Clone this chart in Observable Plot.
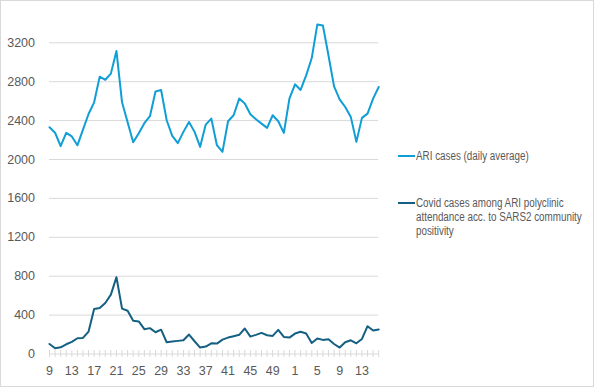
<!DOCTYPE html>
<html>
<head>
<meta charset="utf-8">
<script src="https://cdn.jsdelivr.net/npm/d3@7"></script>
<script src="https://cdn.jsdelivr.net/npm/@observablehq/plot@0.6"></script>
<style>
  html, body { margin: 0; padding: 0; background: #fff; }
  #wrap { position: relative; width: 594px; height: 387px; overflow: hidden; }
  #frame { position: absolute; left: 0; top: 0; width: 592px; height: 385px; border: 1px solid #d9d9d9; pointer-events: none; }
  .leg { position: absolute; font-family: "Liberation Sans", Arial, sans-serif; font-size: 12px; color: #595959; line-height: 14px; white-space: nowrap; transform: scaleX(0.82); transform-origin: 0 0; }
  .sw { position: absolute; height: 2px; width: 17px; }
</style>
</head>
<body>
<div id="wrap"><div id="frame"></div></div>
<script>
const weeks = [9,10,11,12,13,14,15,16,17,18,19,20,21,22,23,24,25,26,27,28,29,30,31,32,33,34,35,36,37,38,39,40,41,42,43,44,45,46,47,48,49,50,51,52,1,2,3,4,5,6,7,8,9,10,11,12,13,14,15,16];
const ari = [2332,2275,2137,2274,2237,2146,2308,2468,2588,2852,2820,2883,3115,2588,2382,2178,2270,2373,2445,2700,2715,2404,2243,2168,2284,2386,2284,2130,2359,2421,2147,2079,2393,2455,2626,2575,2465,2414,2369,2325,2455,2393,2274,2626,2773,2715,2865,3043,3389,3378,3070,2752,2619,2540,2438,2181,2428,2472,2626,2746];
const covid = [103,59,69,100,124,162,165,231,462,472,524,610,790,466,445,341,335,255,266,224,250,121,128,135,141,200,131,66,76,110,107,148,169,183,197,262,179,197,217,193,186,248,176,169,210,228,210,114,159,145,152,103,66,121,141,110,155,286,241,252];
const yTicks = [0,400,800,1200,1600,2000,2400,2800,3200];
const seriesLines = [
  ["ARI cases (daily average)"],
  ["Covid cases among ARI polyclinic", "attendance acc. to SARS2 community", "positivity"]
];
const colors = ["#0f9ed5", "#156082"];

const idx = weeks.map((w, i) => i);
const ariData = ari.map((v, i) => ({i, v}));
const covidData = covid.map((v, i) => ({i, v}));

const chart = Plot.plot({
  width: 594,
  height: 387,
  marginLeft: 49,
  marginRight: 215.8,
  marginTop: 42.3,
  marginBottom: 33.5,
  style: {fontFamily: "'Liberation Sans', Arial, sans-serif", fontSize: "12.5px", color: "#595959", background: "transparent"},
  x: {type: "linear", domain: [0, weeks.length - 1]},
  y: {domain: [0, 3200]},
  marks: [
    Plot.gridY(yTicks.filter(t => t > 0), {stroke: "#d9d9d9", strokeOpacity: 1, strokeWidth: 1}),
    Plot.ruleY([0], {stroke: "#d9d9d9", strokeWidth: 1}),
    Plot.axisY({ticks: yTicks, tickSize: 0, tickPadding: 14.5, tickFormat: d => String(d), fill: "#595959", label: null}),
    Plot.axisX({ticks: idx, tickSize: 7, dy: -3.5, tickPadding: 9, stroke: "#d9d9d9", strokeOpacity: 1,
      tickFormat: i => (i % 4 === 0 ? String(weeks[i]) : ""), fill: "#595959", label: null}),
    Plot.line(ariData, {x: "i", y: "v", stroke: colors[0], strokeWidth: 2, strokeLinejoin: "round"}),
    Plot.line(covidData, {x: "i", y: "v", stroke: colors[1], strokeWidth: 2, strokeLinejoin: "round"})
  ]
});
chart.style.position = "absolute";
chart.style.left = "0px";
chart.style.top = "0px";
const wrap = document.getElementById("wrap");
wrap.insertBefore(chart, wrap.firstChild);

function addLegend(lines, color, swY, textTop) {
  const sw = document.createElement("div");
  sw.className = "sw";
  sw.style.left = "398px";
  sw.style.top = (swY - 1) + "px";
  sw.style.background = color;
  wrap.appendChild(sw);
  const t = document.createElement("div");
  t.className = "leg";
  t.style.left = "415.5px";
  t.style.top = textTop + "px";
  lines.forEach((ln, k) => {
    if (k) t.appendChild(document.createElement("br"));
    t.appendChild(document.createTextNode(ln));
  });
  wrap.appendChild(t);
}
addLegend(seriesLines[0], colors[0], 156, 149);
addLegend(seriesLines[1], colors[1], 202.5, 195.5);
</script>
</body>
</html>
